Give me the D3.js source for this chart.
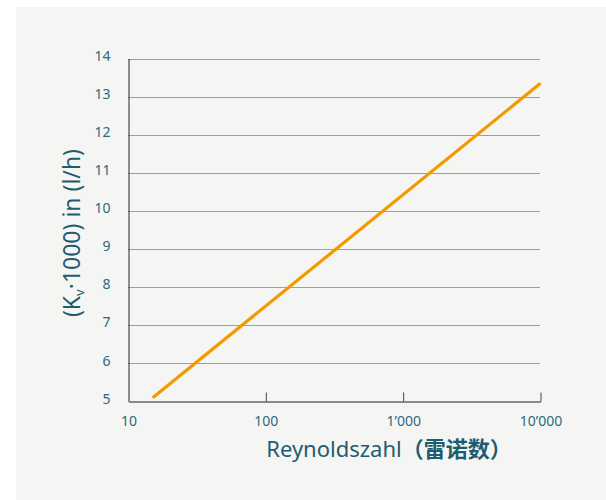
<!DOCTYPE html>
<html>
<head>
<meta charset="utf-8">
<script src="https://cdn.jsdelivr.net/npm/d3@7"></script>
<style>
  html, body { margin: 0; padding: 0; background: #ffffff; }
  svg { display: block; }
</style>
</head>
<body>
<svg id="chart" width="606" height="500"></svg>
<script>
// Kv vs. Reynolds number (log x axis)
const reynolds = [15, 10000];
const kvValues = [5.1, 13.35];
const xTicks = [10, 100, 1000, 10000];
const xTickLabels = ["10", "100", "1\u2019000", "10\u2019000"];
const yTicks = [5, 6, 7, 8, 9, 10, 11, 12, 13, 14];

const svg = d3.select("#chart");
const font = "'Noto Sans', 'Noto Sans CJK SC', sans-serif";
const labelColor = "#2a6a7e";
const titleColor = "#1d5d71";

// panel background
svg.append("rect")
  .attr("x", 16).attr("y", 7)
  .attr("width", 590).attr("height", 493)
  .attr("fill", "#f5f5f3");

const x = d3.scaleLog().domain([10, 10000]).range([128.5, 540.5]);
const y = d3.scaleLinear().domain([5, 14]).range([401.5, 58.5]);

// dotted horizontal grid
svg.append("g")
  .selectAll("line")
  .data(yTicks.filter(d => d > 5))
  .join("line")
  .attr("x1", x(10)).attr("x2", x(10000))
  .attr("y1", d => Math.round(y(d)) + 0.5)
  .attr("y2", d => Math.round(y(d)) + 0.5)
  .attr("stroke", "#444")
  .attr("stroke-width", 1)
  .attr("stroke-dasharray", "1,1");

// y axis
const yAxis = d3.axisLeft(y).tickValues(yTicks).tickSize(0).tickPadding(18);
const gy = svg.append("g").attr("transform", `translate(${x(10)},0)`).call(yAxis);
gy.select(".domain").attr("stroke", "#222").attr("stroke-width", 1);
gy.selectAll("text")
  .attr("dy", "0.12em")
  .attr("fill", labelColor)
  .style("font-family", font)
  .style("font-size", "14px");

// x axis (ticks point up into the plot)
const xAxis = d3.axisBottom(x).tickValues(xTicks)
  .tickFormat((d, i) => xTickLabels[i])
  .tickSizeInner(-9).tickSizeOuter(0).tickPadding(15);
const gx = svg.append("g").attr("transform", `translate(0,${y(5)})`).call(xAxis);
gx.select(".domain").attr("stroke", "#8a8a8a").attr("stroke-width", 2);
gx.selectAll(".tick line").attr("stroke", "#444").attr("stroke-width", 1);
gx.selectAll(".tick").filter(d => d === 10).select("line").remove();
gx.selectAll("text")
  .attr("fill", labelColor)
  .style("font-family", font)
  .style("font-size", "14px");

// curve
const line = d3.line()
  .x((d, i) => x(reynolds[i]))
  .y(d => y(d));
svg.append("path")
  .datum(kvValues)
  .attr("d", line)
  .attr("fill", "none")
  .attr("stroke", "#f39a00")
  .attr("stroke-width", 3.2);

// x axis title
const xt = svg.append("text")
  .attr("x", 389).attr("y", 457)
  .attr("text-anchor", "middle")
  .attr("fill", titleColor)
  .style("font-family", font)
  .style("font-size", "22px");
xt.append("tspan").text("Reynoldszahl");
xt.append("tspan").text("（雷诺数）")
  .style("font-family", "'Noto Sans CJK SC', sans-serif")
  .style("font-weight", "bold");

// y axis title
const yt = svg.append("text")
  .attr("transform", "translate(80,233) rotate(-90)")
  .attr("text-anchor", "middle")
  .attr("fill", titleColor)
  .style("font-family", font)
  .style("font-size", "23px");
yt.append("tspan").text("(K");
yt.append("tspan").text("v").style("font-size", "13px").attr("dy", 4);
yt.append("tspan").text("\u00b71000) in (l/h)").attr("dy", -4);
</script>
</body>
</html>
